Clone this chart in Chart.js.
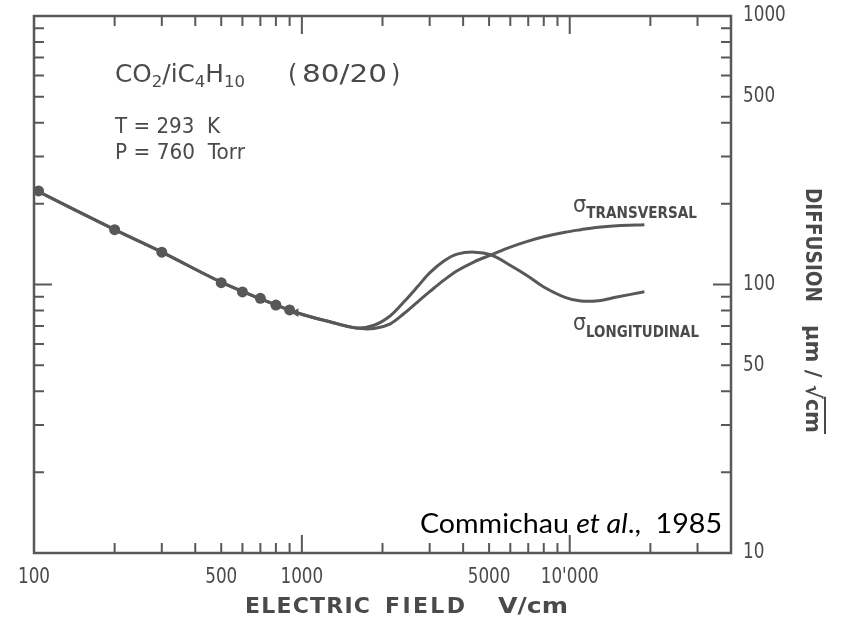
<!DOCTYPE html>
<html>
<head>
<meta charset="utf-8">
<script src="https://cdn.jsdelivr.net/npm/chart.js@4/dist/chart.umd.min.js"></script>
<style>
  html, body { margin: 0; padding: 0; background: #fff; }
  #wrap { width: 844px; height: 627px; }
</style>
</head>
<body>
<div id="wrap"><canvas id="c" width="844" height="627"></canvas></div>
<script>
// Measured diffusion points, CO2/iC4H10 (80/20)
const fieldMeasured = [104, 200, 300, 500, 600, 700, 800, 900];           // V/cm
const sigmaMeasured = [223, 160, 132, 101.6, 93.8, 88.8, 83.8, 80.4];      // µm/√cm

// Calculated curves
const fieldCurve = [100, 200, 300, 500, 700, 966, 1280, 1600, 1860, 2140, 2400, 2700, 3000,
                    3400, 3800, 4400, 5100, 5900, 6900, 8000, 9600, 11000, 12800, 15000, 19000];
const sigmaTransversal = [226, 160, 132, 102, 88.5, 78.3, 72.5, 68.8, 68.6, 71.4, 77.8, 86, 94,
                          104, 112.5, 121.5, 129, 137, 144.5, 150.5, 156.5, 160, 163.5, 165.5, 167];
const sigmaLongitudinal = [226, 160, 132, 102, 88.5, 78.3, 72.5, 68.9, 70.5, 76.5, 86, 98, 110.5,
                           122.6, 129.8, 132, 128.8, 119, 108.3, 97.9, 89.6, 86.8, 87, 89.8, 94];

// End-of-data arrow on the curve
const arrowField = [950];
const arrowSigma = [78.6];

// Axis labels
const xTickValues = [100, 500, 1000, 5000, 10000];
const xTickLabels = ['100', '500', '1000', '5000', "10'000"];
const yTickValues = [1000, 500, 100, 50, 10];
const yTickLabels = ['1000', '500', '100', '50', '10'];

const INK = '#585858';
const TEXT = '#4a4a4a';
const FONT = '"DejaVu Sans", sans-serif';

function pts(xs, ys) { return xs.map((x, i) => ({ x: x, y: ys[i] })); }

// Draw a run of text pieces, squeezed/stretched horizontally to a given width
function drawRuns(ctx, runs, x, y, width) {
  let total = 0;
  runs.forEach(r => { ctx.font = r.font; r.w = ctx.measureText(r.text).width; total += r.w; });
  const sx = width ? width / total : 1;
  ctx.save();
  ctx.translate(x, y);
  ctx.scale(sx, 1);
  let cx = 0;
  runs.forEach(r => { ctx.font = r.font; ctx.fillText(r.text, cx, r.dy || 0); r.x0 = cx * sx; cx += r.w; r.x1 = cx * sx; });
  ctx.restore();
  return runs;
}

// Draw text with even letter spacing across a given width
function drawSpaced(ctx, text, x, y, width, font) {
  ctx.font = font;
  const chars = [...text];
  const ws = chars.map(c => ctx.measureText(c).width);
  const sum = ws.reduce((a, b) => a + b, 0);
  const gap = chars.length > 1 ? (width - sum) / (chars.length - 1) : 0;
  let cx = x;
  chars.forEach((c, i) => { ctx.fillText(c, cx, y); cx += ws[i] + gap; });
}

const frameAndText = {
  id: 'frameAndText',
  afterDatasetsDraw(chart) {
    const { ctx, chartArea: a, scales: { x, y } } = chart;
    ctx.save();

    // plot frame
    ctx.strokeStyle = INK;
    ctx.lineWidth = 2.5;
    ctx.strokeRect(a.left, a.top, a.right - a.left, a.bottom - a.top);

    // inward tick marks on all four sides
    ctx.lineWidth = 2;
    const minor = 10, major = 18;
    const xMin = x.min, xMax = x.max, yMin = y.min, yMax = y.max;
    for (let d = 100; d < xMax; d *= 10) {
      for (let m = 1; m <= 9; m++) {
        const v = d * m;
        if (v <= xMin || v >= xMax) continue;
        const px = x.getPixelForValue(v);
        const len = m === 1 ? major : minor;
        ctx.beginPath();
        ctx.moveTo(px, a.bottom); ctx.lineTo(px, a.bottom - len);
        ctx.moveTo(px, a.top); ctx.lineTo(px, a.top + len);
        ctx.stroke();
      }
    }
    for (let d = 10; d < yMax; d *= 10) {
      for (let m = 1; m <= 9; m++) {
        const v = d * m;
        if (v <= yMin || v >= yMax) continue;
        const py = y.getPixelForValue(v);
        const len = m === 1 ? major : minor;
        ctx.beginPath();
        ctx.moveTo(a.left, py); ctx.lineTo(a.left + len, py);
        ctx.moveTo(a.right, py); ctx.lineTo(a.right - len, py);
        ctx.stroke();
      }
    }

    ctx.fillStyle = TEXT;
    ctx.textBaseline = 'middle';

    // x tick labels
    ctx.font = '21px ' + FONT;
    xTickValues.forEach((v, i) => {
      const px = x.getPixelForValue(v);
      ctx.save();
      ctx.translate(px, 578);
      ctx.scale(0.8, 1);
      ctx.textAlign = 'center';
      ctx.fillText(xTickLabels[i], 0, 0);
      ctx.restore();
    });
    // y tick labels (right side)
    yTickValues.forEach((v, i) => {
      const py = y.getPixelForValue(v);
      ctx.save();
      ctx.translate(a.right + 12, py);
      ctx.scale(0.8, 1);
      ctx.textAlign = 'left';
      ctx.fillText(yTickLabels[i], 0, 0);
      ctx.restore();
    });

    ctx.textAlign = 'left';
    ctx.textBaseline = 'alphabetic';

    // x axis title
    const tf = 'bold 22px ' + FONT;
    drawSpaced(ctx, 'ELECTRIC', 245, 613, 125, tf);
    drawSpaced(ctx, 'FIELD', 385, 613, 80, tf);
    drawRuns(ctx, [{ text: 'V/cm', font: tf }], 498, 613, 70);

    // y axis title, rotated
    ctx.save();
    ctx.translate(806, 188);
    ctx.rotate(Math.PI / 2);
    drawRuns(ctx, [{ text: 'DIFFUSION', font: 'bold 21px ' + FONT }], 0, 0, 114);
    const r = drawRuns(ctx, [
      { text: 'µm', font: 'bold 21px ' + FONT },
      { text: ' / ', font: 'bold 21px ' + FONT },
      { text: '√', font: 'bold 21px ' + FONT },
      { text: 'cm', font: 'bold 21px ' + FONT }
    ], 137, 0, 108);
    ctx.strokeStyle = TEXT;
    ctx.lineWidth = 2;
    ctx.beginPath();
    ctx.moveTo(137 + r[2].x1 - 2, -19);
    ctx.lineTo(137 + r[3].x1 + 1, -19);
    ctx.stroke();
    ctx.restore();

    // gas mixture and conditions
    const big = '24px ' + FONT, sub = '16px ' + FONT;
    drawRuns(ctx, [
      { text: 'CO', font: big }, { text: '2', font: sub, dy: 5 },
      { text: '/iC', font: big }, { text: '4', font: sub, dy: 5 },
      { text: 'H', font: big }, { text: '10', font: sub, dy: 5 }
    ], 115, 82, 130);
    ctx.font = big;
    ctx.fillText('(', 288, 82);
    drawRuns(ctx, [{ text: '80/20', font: big }], 302, 82, 85);
    ctx.font = big;
    ctx.fillText(')', 391, 82);
    drawRuns(ctx, [{ text: 'T = 293  K', font: '21px ' + FONT }], 115, 133, 105);
    drawRuns(ctx, [{ text: 'P = 760  Torr', font: '21px ' + FONT }], 115, 159, 130);

    // curve labels
    drawRuns(ctx, [
      { text: 'σ', font: '23px ' + FONT },
      { text: 'TRANSVERSAL', font: 'bold 15px ' + FONT, dy: 6 }
    ], 573, 212, 124);
    drawRuns(ctx, [
      { text: 'σ', font: '23px ' + FONT },
      { text: 'LONGITUDINAL', font: 'bold 15px ' + FONT, dy: 7 }
    ], 573, 330, 126);

    // reference
    ctx.fillStyle = '#000';
    const cf = '27px Lato, "Open Sans", sans-serif';
    drawRuns(ctx, [
      { text: 'Commichau ', font: cf },
      { text: 'et al', font: 'italic ' + cf },
      { text: '.,  1985', font: cf }
    ], 420, 533, 302);

    ctx.restore();
  }
};

new Chart(document.getElementById('c'), {
  type: 'line',
  data: {
    datasets: [
      {
        label: 'σ transversal',
        data: pts(fieldCurve, sigmaTransversal),
        borderColor: INK, borderWidth: 3, pointRadius: 0,
        tension: 0.35, fill: false
      },
      {
        label: 'σ longitudinal',
        data: pts(fieldCurve, sigmaLongitudinal),
        borderColor: INK, borderWidth: 3, pointRadius: 0,
        tension: 0.35, fill: false
      },
      {
        label: 'measured',
        data: pts(fieldMeasured, sigmaMeasured),
        showLine: false, pointRadius: 5.5, pointBackgroundColor: INK,
        pointBorderColor: INK, pointBorderWidth: 0, clip: false
      },
      {
        label: 'arrow',
        data: pts(arrowField, arrowSigma),
        showLine: false, pointStyle: 'triangle', rotation: 270, pointRadius: 5,
        pointBackgroundColor: INK, pointBorderColor: INK, pointBorderWidth: 0
      }
    ]
  },
  options: {
    responsive: false,
    animation: false,
    events: [],
    layout: { padding: { left: 34, top: 16, right: 0, bottom: 0 } },
    plugins: { legend: { display: false }, tooltip: { enabled: false } },
    scales: {
      x: {
        type: 'logarithmic', min: 100, max: 40000, position: 'bottom',
        grid: { display: false }, border: { display: false }, ticks: { display: false },
        afterFit(s) { s.height = 74; }
      },
      y: {
        type: 'logarithmic', min: 10, max: 1000, position: 'right',
        grid: { display: false }, border: { display: false }, ticks: { display: false },
        afterFit(s) { s.width = 113; }
      }
    }
  },
  plugins: [frameAndText]
});
</script>
</body>
</html>
